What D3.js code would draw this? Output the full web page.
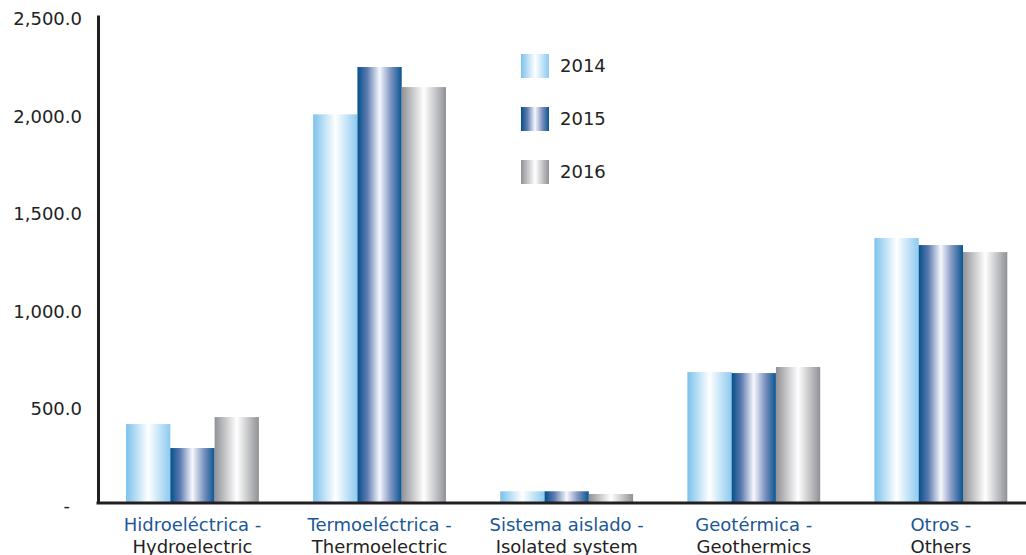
<!DOCTYPE html>
<html>
  <head>
    <meta charset="utf-8">
    <script type="text/javascript" src="https://cdn.jsdelivr.net/npm/d3@7/dist/d3.min.js"></script>
    <style>
      body { margin: 0; background: #fff; }
      text { font-family: "DejaVu Sans", Verdana, sans-serif; font-size: 18px; }
      .tick text { fill: #222; }
      .domain { stroke: #231f20; stroke-width: 3; }
    </style>
  </head>
  <body>
    <div id="chart"></div>
  </body>
  <script>
  (function (d3) {
    'use strict';

    // data
    var categoriesEs = ['Hidroeléctrica -', 'Termoeléctrica -', 'Sistema aislado -', 'Geotérmica -', 'Otros -'];
    var categoriesEn = ['Hydroelectric', 'Thermoelectric', 'Isolated system', 'Geothermics', 'Others'];
    var years = ['2014', '2015', '2016'];
    var values2014 = [400, 1990, 55, 667, 1355];
    var values2015 = [277, 2233, 55, 662, 1319];
    var values2016 = [436, 2130, 41, 693, 1283];
    var yTicks = [0, 500, 1000, 1500, 2000, 2500];

    var series = [values2014, values2015, values2016];

    var width = 1026, height = 555;
    var left = 98, right = 1026, top = 15, bottom = 502;

    // gradients per year
    var gradStops = {
      '2014': [['0%', '#7cc2ec'], ['50%', '#ffffff'], ['100%', '#8ccaf0']],
      '2015': [['0%', '#04508c'], ['22%', '#5d7bb0'], ['50%', '#f6f8fc'], ['75%', '#7f95c2'], ['100%', '#0a5591']],
      '2016': [['0%', '#909196'], ['50%', '#ffffff'], ['100%', '#909196']]
    };

    var svg = d3.select('#chart')
      .append('svg')
      .attr('width', width)
      .attr('height', height);

    var defs = svg.append('defs');
    years.forEach(function (yr) {
      var g = defs.append('linearGradient')
        .attr('id', 'g' + yr)
        .attr('x1', '0').attr('x2', '1').attr('y1', '0').attr('y2', '0');
      gradStops[yr].forEach(function (s) {
        g.append('stop').attr('offset', s[0]).attr('stop-color', s[1]);
      });
    });

    var x0 = d3.scaleBand()
      .domain(categoriesEs)
      .range([left, right])
      .paddingInner(0.29)
      .paddingOuter(0.125)
      .align(0.6);

    var x1 = d3.scaleBand()
      .domain(years)
      .range([0, x0.bandwidth()]);

    var y = d3.scaleLinear()
      .domain([0, 2500])
      .range([bottom, top]);

    // bars
    var groups = svg.selectAll('.group')
      .data(categoriesEs)
      .enter()
      .append('g')
      .attr('class', 'group')
      .attr('transform', function (d) { return 'translate(' + x0(d) + ',0)'; });

    groups.selectAll('rect')
      .data(function (d, i) {
        return years.map(function (yr, j) { return { year: yr, value: series[j][i] }; });
      })
      .enter()
      .append('rect')
      .attr('x', function (d) { return x1(d.year); })
      .attr('y', function (d) { return y(d.value); })
      .attr('width', x1.bandwidth())
      .attr('height', function (d) { return bottom - y(d.value); })
      .attr('fill', function (d) { return 'url(#g' + d.year + ')'; });

    // y axis
    var yAxis = svg.append('g')
      .attr('transform', 'translate(' + left + ',0)')
      .call(d3.axisLeft(y)
        .tickValues(yTicks)
        .tickSize(0)
        .tickPadding(16)
        .tickFormat(function (d) { return d === 0 ? '-' : d3.format(',.1f')(d); }));
    yAxis.selectAll('.tick text').attr('dy', '0.55em');
    yAxis.selectAll('.tick text').filter(function (d) { return d === 0; }).attr('dx', -12);

    // x axis
    var xAxis = svg.append('g')
      .attr('transform', 'translate(0,' + (bottom + 1) + ')')
      .call(d3.axisBottom(x0).tickSize(0).tickSizeOuter(0).tickFormat(''));
    xAxis.select('.domain').attr('d', 'M' + (left - 1.5) + ',0H' + right);

    xAxis.selectAll('.tick text').remove();
    var lab = xAxis.selectAll('.tick')
      .append('text')
      .attr('text-anchor', 'middle');
    lab.append('tspan')
      .attr('x', 0).attr('y', 28)
      .attr('fill', '#1b5795')
      .text(function (d) { return d; });
    lab.append('tspan')
      .attr('x', 0).attr('y', 50)
      .attr('fill', '#222')
      .text(function (d, i) { return categoriesEn[i]; });

    // legend
    var legend = svg.selectAll('.legend')
      .data(years)
      .enter()
      .append('g')
      .attr('class', 'legend')
      .attr('transform', function (d, i) { return 'translate(521,' + (54 + i * 53) + ')'; });

    legend.append('rect')
      .attr('width', 28)
      .attr('height', 24)
      .attr('fill', function (d) { return 'url(#g' + d + ')'; });

    legend.append('text')
      .attr('x', 39)
      .attr('y', 18)
      .attr('fill', '#222')
      .text(function (d) { return d; });
  })(window.d3);
  </script>
</html>
